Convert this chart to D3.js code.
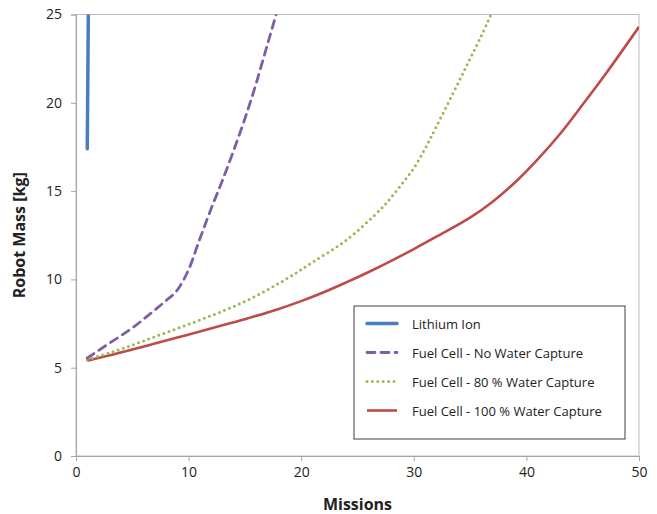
<!DOCTYPE html>
<html>
<head>
<meta charset="utf-8">
<script src="https://cdn.jsdelivr.net/npm/d3@7"></script>
<style>
  body { margin: 0; background: #fff; }
  text { font-family: "Open Sans", "Liberation Sans", sans-serif; fill: #222; }
</style>
</head>
<body>
<div id="chart"></div>
<script>
// series values: [missions, robot mass kg]
var lithiumIon = [[1, 17.4], [1.1, 25.5]];
var fuelNoWater = [[1, 5.55], [3, 6.4], [5, 7.25], [7, 8.27], [8, 8.8], [9, 9.4], [10, 10.55],
    [11, 12.3], [12, 14.0], [13, 15.6], [14, 17.3], [15, 19.1], [16, 21.1], [17, 23.3], [18, 25.5]];
var fuel80 = [[1, 5.45], [3, 5.85], [5, 6.28], [7, 6.75], [9, 7.22], [11, 7.7], [13, 8.2], [15, 8.75],
    [17, 9.41], [19, 10.15], [21, 10.97], [24, 12.22], [27, 13.94], [28, 14.65], [29, 15.45],
    [30, 16.3], [31, 17.4], [32, 18.65], [34, 21.2], [35, 22.5], [36, 23.8], [37, 25.2]];
var fuel100 = [[1, 5.4], [3, 5.7], [5, 6.03], [7, 6.37], [9, 6.71], [11, 7.05], [13, 7.4], [15, 7.75],
    [18, 8.33], [20, 8.77], [22, 9.27], [24, 9.83], [26, 10.42], [28, 11.05], [30, 11.72], [32, 12.42],
    [35, 13.5], [37, 14.4], [39, 15.5], [41, 16.8], [43, 18.25], [45, 19.9], [47, 21.6], [50, 24.3]];

var xTicks = [0, 10, 20, 30, 40, 50];
var yTicks = [0, 5, 10, 15, 20, 25];

var seriesNames = ["Lithium Ion", "Fuel Cell - No Water Capture", "Fuel Cell - 80 % Water Capture", "Fuel Cell - 100 % Water Capture"];

var series = [
    { name: seriesNames[0], values: lithiumIon, color: "#4a7ebb", width: 3.5, dash: null, cap: "round", curve: d3.curveLinear },
    { name: seriesNames[1], values: fuelNoWater, color: "#7d5fa6", width: 2.8, dash: "8,6", cap: "round", curve: d3.curveMonotoneX },
    { name: seriesNames[2], values: fuel80, color: "#98b954", width: 3, dash: "0,5.4", cap: "round", curve: d3.curveCatmullRom },
    { name: seriesNames[3], values: fuel100, color: "#be4b48", width: 2.6, dash: null, cap: "butt", curve: d3.curveCatmullRom }
];

drawChart();

function drawChart() {
    var margin = { top: 14.5, right: 18, bottom: 58, left: 76 };
    var totalWidth = 657, totalHeight = 514;
    var width = totalWidth - margin.left - margin.right,
        height = totalHeight - margin.top - margin.bottom;

    var svg = d3.select("#chart").append("svg")
        .attr("width", totalWidth)
        .attr("height", totalHeight);

    var g = svg.append("g")
        .attr("transform", "translate(" + margin.left + "," + margin.top + ")");

    var x = d3.scaleLinear().domain([0, 50]).range([0, width]);
    var y = d3.scaleLinear().domain([0, 25]).range([height, 0]);

    // plot area border (top/right)
    g.append("rect")
        .attr("x", 0).attr("y", 0)
        .attr("width", width).attr("height", height)
        .attr("fill", "none")
        .attr("stroke", "#bcbcbc")
        .attr("stroke-width", 1);

    var xAxis = d3.axisBottom(x).tickValues(xTicks).tickSize(5).tickPadding(6);
    var yAxis = d3.axisLeft(y).tickValues(yTicks).tickSize(5).tickPadding(9);

    var gx = g.append("g")
        .attr("transform", "translate(0," + height + ")")
        .call(xAxis);
    var gy = g.append("g").call(yAxis);

    [gx, gy].forEach(function (ax) {
        ax.select(".domain").attr("stroke", "#a6a6a6");
        ax.selectAll(".tick line").attr("stroke", "#a6a6a6");
        ax.selectAll(".tick text")
            .attr("font-size", "14px")
            .attr("font-family", "'Open Sans', sans-serif")
            .attr("fill", "#222");
    });

    svg.append("clipPath").attr("id", "plot-clip")
        .append("rect")
        .attr("x", 0).attr("y", 0)
        .attr("width", width).attr("height", height);

    var plot = g.append("g").attr("clip-path", "url(#plot-clip)");

    // draw back to front like the original
    series.slice().reverse().forEach(function (s) {
        var line = d3.line()
            .x(function (d) { return x(d[0]); })
            .y(function (d) { return y(d[1]); })
            .curve(s.curve);
        plot.append("path")
            .datum(s.values)
            .attr("fill", "none")
            .attr("stroke", s.color)
            .attr("stroke-width", s.width)
            .attr("stroke-dasharray", s.dash)
            .attr("stroke-linecap", s.cap)
            .attr("d", line);
    });

    // axis titles
    svg.append("text")
        .attr("x", margin.left + width / 2)
        .attr("y", 510)
        .attr("text-anchor", "middle")
        .attr("font-size", "16px")
        .attr("font-weight", "bold")
        .text("Missions");

    svg.append("text")
        .attr("transform", "translate(25," + (margin.top + height / 2) + ") rotate(-90)")
        .attr("text-anchor", "middle")
        .attr("font-size", "16px")
        .attr("font-weight", "bold")
        .text("Robot Mass [kg]");

    // legend
    var legend = svg.append("g").attr("transform", "translate(354,306)");
    legend.append("rect")
        .attr("x", 0).attr("y", 0)
        .attr("width", 271).attr("height", 133)
        .attr("fill", "#fff")
        .attr("stroke", "#404040")
        .attr("stroke-width", 1);

    series.forEach(function (s, i) {
        var row = legend.append("g").attr("transform", "translate(0," + (17.5 + i * 29) + ")");
        row.append("line")
            .attr("x1", 13).attr("x2", 43)
            .attr("y1", 0).attr("y2", 0)
            .attr("stroke", s.color)
            .attr("stroke-width", s.width)
            .attr("stroke-dasharray", s.dash)
            .attr("stroke-linecap", s.cap);
        row.append("text")
            .attr("x", 58)
            .attr("y", 5)
            .attr("font-size", "13px")
            .text(s.name);
    });
}
</script>
</body>
</html>
